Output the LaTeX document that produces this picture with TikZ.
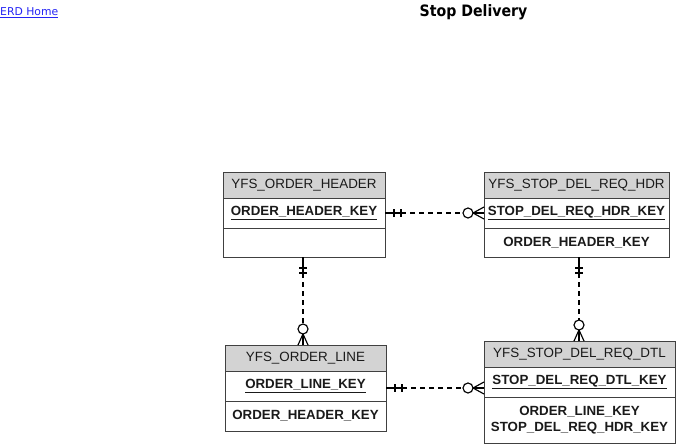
\documentclass[tikz,border=0pt]{standalone}
\usepackage{fontspec}
\setmainfont{Liberation Sans}
\newfontfamily\dejavu{DejaVu Sans}
\newfontfamily\dejavucond[FakeStretch=0.9]{DejaVu Sans}
\usetikzlibrary{calc}
\definecolor{hdrgray}{HTML}{D3D3D3}
\definecolor{edgegray}{HTML}{404040}
\definecolor{txtdark}{HTML}{1A1A1A}
\definecolor{linkblue}{HTML}{2525F5}
\tikzset{
  part/.style={draw=edgegray, line width=1pt, rectangle, inner sep=0pt, outer sep=0pt,
     anchor=north west, align=center, text=txtdark},
  hdrpart/.style={part, fill=hdrgray, font=\fontsize{13.4}{16}\selectfont},
  keypart/.style={part, fill=white, font=\fontsize{13.3}{16}\selectfont\bfseries},
  attrpart/.style={part, fill=white, font=\fontsize{13.3}{16}\selectfont\bfseries},
  conn/.style={draw=black, line width=1.15pt},
  dashconn/.style={conn, dash pattern=on 5pt off 4pt},
}
\newcommand{\erdH}[2]{%
  \draw[conn] (#1) -- ($(#1)+(16,0)$);
  \draw[conn] ($(#1)+(9,-4)$) -- ($(#1)+(9,4)$);
  \draw[conn] ($(#1)+(16,-4)$) -- ($(#1)+(16,4)$);
  \draw[dashconn] ($(#1)+(16,0)$) -- ($(#2)+(-21,0)$);
  \draw[conn] ($(#2)+(-16,0)$) circle[radius=5pt];
  \draw[conn] ($(#2)+(-11,0)$) -- (#2);
  \draw[conn] ($(#2)+(-11,0)$) -- ($(#2)+(0,-6)$);
  \draw[conn] ($(#2)+(-11,0)$) -- ($(#2)+(0,6)$);
}
\newcommand{\erdV}[2]{%
  \draw[conn] (#1) -- ($(#1)+(0,16)$);
  \draw[conn] ($(#1)+(-4,11)$) -- ($(#1)+(4,11)$);
  \draw[conn] ($(#1)+(-4,16)$) -- ($(#1)+(4,16)$);
  \draw[dashconn] ($(#1)+(0,16)$) -- ($(#2)+(0,-21)$);
  \draw[conn] ($(#2)+(0,-16)$) circle[radius=5pt];
  \draw[conn] ($(#2)+(0,-11)$) -- (#2);
  \draw[conn] ($(#2)+(0,-11)$) -- ($(#2)+(-5,0)$);
  \draw[conn] ($(#2)+(0,-11)$) -- ($(#2)+(5,0)$);
}
\begin{document}
\begin{tikzpicture}[x=1pt,y=-1pt]
\useasboundingbox[fill=white] (0,0) rectangle (677,444);

% header texts
\node[anchor=west, inner sep=0pt, text=linkblue, font=\dejavu\fontsize{10.8}{13}\selectfont] (home) at (0,13) {\underline{ERD Home}};
\node[anchor=center, inner sep=0pt, text=black, font=\dejavucond\fontsize{15.7}{18}\selectfont\bfseries] (title) at (473.5,12.5) {Stop Delivery};

% YFS_ORDER_HEADER
\node[hdrpart, minimum width=162pt, minimum height=26pt] (b1h) at (223,172) {YFS\_ORDER\_HEADER};
\node[keypart, minimum width=162pt, minimum height=30pt] (b1k) at (223,198) {\underline{ORDER\_HEADER\_KEY}};
\node[attrpart, minimum width=162pt, minimum height=29pt] (b1a) at (223,228) {};

% YFS_STOP_DEL_REQ_HDR
\node[hdrpart, minimum width=185pt, minimum height=26pt] (b2h) at (484,172) {YFS\_STOP\_DEL\_REQ\_HDR};
\node[keypart, minimum width=185pt, minimum height=30pt] (b2k) at (484,198) {\underline{STOP\_DEL\_REQ\_HDR\_KEY}};
\node[attrpart, minimum width=185pt, minimum height=29pt] (b2a) at (484,228) {ORDER\_HEADER\_KEY};

% YFS_ORDER_LINE
\node[hdrpart, minimum width=161pt, minimum height=26pt] (b3h) at (225,345) {YFS\_ORDER\_LINE};
\node[keypart, minimum width=161pt, minimum height=30pt] (b3k) at (225,371) {\underline{ORDER\_LINE\_KEY}};
\node[attrpart, minimum width=161pt, minimum height=30pt] (b3a) at (225,401) {ORDER\_HEADER\_KEY};

% YFS_STOP_DEL_REQ_DTL
\node[hdrpart, minimum width=191pt, minimum height=26pt] (b4h) at (484,341) {YFS\_STOP\_DEL\_REQ\_DTL};
\node[keypart, minimum width=191pt, minimum height=30pt] (b4k) at (484,367) {\underline{STOP\_DEL\_REQ\_DTL\_KEY}};
\node[attrpart, minimum width=191pt, minimum height=46pt] (b4a) at (484,397) {ORDER\_LINE\_KEY\\STOP\_DEL\_REQ\_HDR\_KEY};

% connectors
\coordinate (c1a) at (b1k.east);
\coordinate (c1b) at (b2k.west);
\erdH{c1a}{c1b}

\coordinate (c2a) at ([yshift=-2pt]b3k.east);
\coordinate (c2b) at (c2a -| b4k.west);
\erdH{c2a}{c2b}

\coordinate (c3a) at ([xshift=-1pt]b1a.south);
\coordinate (c3b) at (c3a |- b3h.north);
\erdV{c3a}{c3b}

\coordinate (c4a) at ([xshift=2.5pt]b2a.south);
\coordinate (c4b) at (c4a |- b4h.north);
\erdV{c4a}{c4b}
\end{tikzpicture}
\end{document}
